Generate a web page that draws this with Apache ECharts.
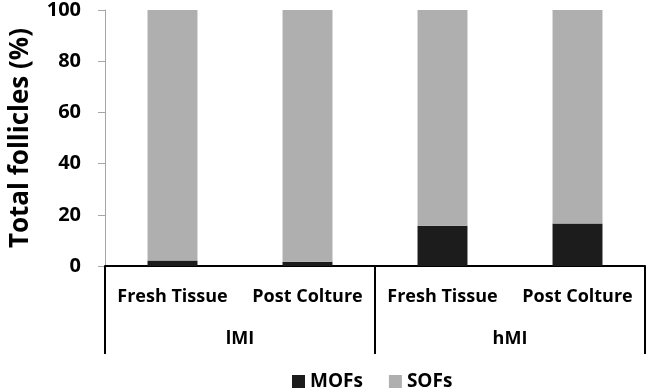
<!DOCTYPE html>
<html>
<head>
<meta charset="utf-8">
<script src="https://cdn.jsdelivr.net/npm/echarts@6/dist/echarts.min.js"></script>
<style>html,body{margin:0;padding:0;background:#fff}#c{width:649px;height:390px}</style>
</head>
<body>
<div id="c"></div>
<script>
var categories = ['Fresh Tissue', 'Post Colture', 'Fresh Tissue', 'Post Colture'];
var groups = ['lMI', 'hMI'];
var mofs = [2.1, 1.7, 15.7, 16.6];
var sofs = [97.9, 98.3, 84.3, 83.4];
var yTitle = 'Total follicles (%)';

var FONT = '"Open Sans", "Noto Sans", sans-serif';
var chart = echarts.init(document.getElementById('c'), null, {renderer: 'canvas'});
chart.setOption({
  animation: false,
  backgroundColor: '#fff',
  grid: {left: 98, right: 4, top: 9.5, bottom: 124, containLabel: false},
  legend: {
    left: 287, top: 367, icon: 'rect', itemWidth: 13, itemHeight: 13, itemGap: 26, padding: 5,
    textStyle: {fontFamily: FONT, fontWeight: 'bold', fontSize: 19, color: '#000'},
    data: ['MOFs', 'SOFs']
  },
  xAxis: [{
    type: 'category', data: categories, position: 'bottom',
    axisLine: {show: true, lineStyle: {color: '#000', width: 2}},
    axisTick: {show: false},
    axisLabel: {interval: 0, margin: 22, fontFamily: FONT, fontWeight: 'bold', fontSize: 18, color: '#000'}
  }, {
    type: 'category', data: groups, position: 'bottom', offset: 88,
    axisLine: {show: false},
    axisTick: {show: true, inside: true, length: 88, lineStyle: {color: '#000', width: 2}},
    axisLabel: {inside: true, margin: 6, fontFamily: FONT, fontWeight: 'bold', fontSize: 18, color: '#000'}
  }],
  yAxis: {
    type: 'value', min: 0, max: 100, interval: 20,
    axisLine: {show: true, lineStyle: {color: '#a6a6a6', width: 1}},
    axisTick: {show: true, length: 7, lineStyle: {color: '#a6a6a6'}},
    splitLine: {show: false},
    axisLabel: {margin: 24, fontFamily: FONT, fontWeight: 'bold', fontSize: 20, color: '#000'},
    name: yTitle, nameLocation: 'middle', nameGap: 71, nameRotate: 90,
    nameTextStyle: {fontFamily: FONT, fontWeight: 'bold', fontSize: 26, color: '#000'}
  },
  series: [{
    name: 'MOFs', type: 'bar', stack: 'total', data: mofs, barWidth: '37%',
    itemStyle: {color: '#1c1c1c'}
  }, {
    name: 'SOFs', type: 'bar', stack: 'total', data: sofs, barWidth: '37%',
    itemStyle: {color: '#afafaf'}
  }]
});
</script>
</body>
</html>
